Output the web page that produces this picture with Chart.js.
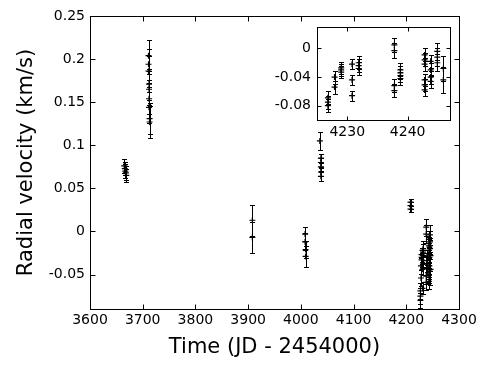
<!DOCTYPE html>
<html>
<head>
<meta charset="utf-8">
<script src="https://cdn.jsdelivr.net/npm/chart.js@4/dist/chart.umd.min.js"></script>
<style>
  body { margin: 0; background: #fff; }
  #wrap { position: relative; width: 499px; height: 366px; }
  #inset { position: absolute; left: 260px; top: 10px; }
</style>
</head>
<body>
<div id="wrap">
  <canvas id="myChart" width="499" height="366"></canvas>
  <canvas id="inset" width="200" height="140"></canvas>
</div>
<script>
// radial velocity measurements, JD - 2454000
var jd = [
  3665, 3666, 3667, 3668, 3669,
  3711, 3711, 3711, 3712, 3712, 3712, 3712, 3713, 3713,
  3908, 3908,
  4008, 4008, 4009, 4009,
  4036, 4038, 4038, 4038, 4038, 4038,
  4208, 4208, 4208,
  4226.8, 4226.8, 4226.8,
  4227.9, 4227.9,
  4229.0, 4229.0, 4229.0,
  4230.8, 4230.8, 4230.8,
  4231.9, 4231.9, 4231.9,
  4237.8, 4237.8, 4237.8, 4237.8,
  4238.8, 4238.8, 4238.8, 4238.8,
  4242.8, 4242.8, 4242.8, 4242.8, 4242.8, 4242.8,
  4243.8, 4243.8, 4243.8, 4243.8,
  4244.9, 4244.9, 4244.9,
  4245.9, 4245.9
];
var rv = [
  0.076, 0.073, 0.070, 0.068, 0.065,
  0.204, 0.194, 0.186, 0.171, 0.165, 0.154, 0.144, 0.131, 0.127,
  0.013, -0.007,
  -0.003, -0.012, -0.021, -0.029,
  0.105, 0.085, 0.080, 0.075, 0.069, 0.064,
  0.034, 0.030, 0.026,
  -0.069, -0.075, -0.080,
  -0.040, -0.054,
  -0.027, -0.030, -0.033,
  -0.022, -0.044, -0.066,
  -0.020, -0.024, -0.028,
  0.005, -0.003, -0.052, -0.059,
  -0.030, -0.034, -0.038, -0.042,
  -0.009, -0.016, -0.022, -0.044, -0.051, -0.058,
  -0.018, -0.030, -0.040, -0.046,
  -0.004, -0.012, -0.020,
  -0.028, -0.044
];
var rvErr = [
  0.008, 0.008, 0.008, 0.008, 0.008,
  0.018, 0.018, 0.018, 0.018, 0.018, 0.018, 0.018, 0.018, 0.018,
  0.018, 0.018,
  0.008, 0.010, 0.010, 0.012,
  0.010, 0.005, 0.005, 0.005, 0.005, 0.005,
  0.004, 0.004, 0.004,
  0.009, 0.009, 0.009,
  0.009, 0.009,
  0.008, 0.008, 0.008,
  0.007, 0.007, 0.007,
  0.009, 0.009, 0.009,
  0.010, 0.010, 0.009, 0.009,
  0.009, 0.009, 0.009, 0.009,
  0.009, 0.009, 0.009, 0.009, 0.009, 0.009,
  0.009, 0.009, 0.009, 0.009,
  0.012, 0.012, 0.012,
  0.018, 0.018
];
var xTicksMain = [3600, 3700, 3800, 3900, 4000, 4100, 4200, 4300];
var yTicksMain = [-0.05, 0, 0.05, 0.1, 0.15, 0.2, 0.25];
var xTicksInset = [4230, 4240];
var yTicksInset = [-0.08, -0.04, 0];

Chart.defaults.font.family = 'DejaVu Sans';
Chart.defaults.color = '#000';

function fmt(v) {
  var s = Number(v.toFixed(2));
  if (s === 0) s = 0;
  return String(s);
}

function pointsFor(lo, hi) {
  var out = [];
  for (var i = 0; i < jd.length; i++) {
    if (jd[i] >= lo && jd[i] <= hi) out.push({x: jd[i], y: rv[i], e: rvErr[i]});
  }
  return out;
}

// error bars + frame with inward ticks (matplotlib look)
function framePlugin(tickLen, capW) {
  return {
    id: 'frame',
    beforeDraw: function(chart) {
      var a = chart.chartArea, ctx = chart.ctx;
      ctx.save();
      ctx.fillStyle = '#fff';
      ctx.fillRect(a.left, a.top, a.right - a.left, a.bottom - a.top);
      ctx.restore();
    },
    afterDatasetsDraw: function(chart) {
      var a = chart.chartArea, ctx = chart.ctx;
      var xs = chart.scales.x, ys = chart.scales.y;
      var pts = chart.data.datasets[0].data;
      ctx.save();
      ctx.beginPath();
      ctx.rect(a.left, a.top, a.right - a.left, a.bottom - a.top);
      ctx.clip();
      ctx.strokeStyle = '#000';
      ctx.lineWidth = 1;
      ctx.beginPath();
      pts.forEach(function(p) {
        var px = Math.round(xs.getPixelForValue(p.x)) + 0.5;
        var y1 = Math.round(ys.getPixelForValue(p.y + p.e)) + 0.5;
        var y2 = Math.round(ys.getPixelForValue(p.y - p.e)) + 0.5;
        ctx.moveTo(px, y1); ctx.lineTo(px, y2);
        ctx.moveTo(px - capW, y1); ctx.lineTo(px + capW, y1);
        ctx.moveTo(px - capW, y2); ctx.lineTo(px + capW, y2);
      });
      ctx.stroke();
      ctx.restore();
    },
    afterDraw: function(chart) {
      var a = chart.chartArea, ctx = chart.ctx;
      var xs = chart.scales.x, ys = chart.scales.y;
      var l = Math.round(a.left) + 0.5, r = Math.round(a.right) + 0.5;
      var t = Math.round(a.top) + 0.5, b = Math.round(a.bottom) + 0.5;
      ctx.save();
      ctx.strokeStyle = '#000';
      ctx.lineWidth = 1;
      ctx.strokeRect(l, t, r - l, b - t);
      ctx.beginPath();
      xs.ticks.forEach(function(tk) {
        var px = Math.round(xs.getPixelForValue(tk.value)) + 0.5;
        ctx.moveTo(px, b); ctx.lineTo(px, b - tickLen);
        ctx.moveTo(px, t); ctx.lineTo(px, t + tickLen);
      });
      ys.ticks.forEach(function(tk) {
        var py = Math.round(ys.getPixelForValue(tk.value)) + 0.5;
        ctx.moveTo(l, py); ctx.lineTo(l + tickLen, py);
        ctx.moveTo(r, py); ctx.lineTo(r - tickLen, py);
      });
      ctx.stroke();
      ctx.restore();
    }
  };
}

var ctx = document.getElementById('myChart');
var mainChart = new Chart(ctx, {
  type: 'scatter',
  data: {
    datasets: [{
      data: pointsFor(3600, 4300),
      pointStyle: 'cross',
      radius: 3,
      borderColor: '#000',
      borderWidth: 1.2
    }]
  },
  options: {
    responsive: false,
    animation: false,
    layout: { padding: { left: 0, right: 40, top: 16, bottom: 0 } },
    plugins: { legend: { display: false }, tooltip: { enabled: false } },
    scales: {
      x: {
        type: 'linear', min: 3600, max: 4300,
        afterBuildTicks: function(s) { s.ticks = xTicksMain.map(function(v) { return {value: v}; }); },
        ticks: { font: { size: 14 }, padding: 3, maxRotation: 0, autoSkip: false,
                 callback: function(v) { return String(v); } },
        grid: { display: false, drawTicks: false },
        border: { display: false },
        title: { display: true, text: 'Time (JD - 2454000)', font: { size: 21 }, padding: { bottom: 6 } },
        afterFit: function(s) { s.height = 57; }
      },
      y: {
        type: 'linear', min: -0.09, max: 0.25,
        afterBuildTicks: function(s) { s.ticks = yTicksMain.map(function(v) { return {value: v}; }); },
        ticks: { font: { size: 14 }, padding: 5, autoSkip: false, callback: fmt },
        grid: { display: false, drawTicks: false },
        border: { display: false },
        title: { display: true, text: 'Radial velocity (km/s)', font: { size: 21 }, padding: { top: 14 } },
        afterFit: function(s) { s.width = 90; }
      }
    }
  },
  plugins: [framePlugin(5, 2.5)]
});

var insetChart = new Chart(document.getElementById('inset'), {
  type: 'scatter',
  data: {
    datasets: [{
      data: pointsFor(4225, 4247),
      pointStyle: 'cross',
      radius: 3,
      borderColor: '#000',
      borderWidth: 1.2
    }]
  },
  options: {
    responsive: false,
    animation: false,
    layout: { padding: { left: 0, right: 10, top: 17, bottom: 0 } },
    plugins: { legend: { display: false }, tooltip: { enabled: false } },
    scales: {
      x: {
        type: 'linear', min: 4225, max: 4247,
        afterBuildTicks: function(s) { s.ticks = xTicksInset.map(function(v) { return {value: v}; }); },
        ticks: { font: { size: 14 }, padding: 4, maxRotation: 0, autoSkip: false,
                 callback: function(v) { return String(v); } },
        grid: { display: false, drawTicks: false },
        border: { display: false },
        afterFit: function(s) { s.height = 30; }
      },
      y: {
        type: 'linear', min: -0.1, max: 0.03,
        afterBuildTicks: function(s) { s.ticks = yTicksInset.map(function(v) { return {value: v}; }); },
        ticks: { font: { size: 14 }, padding: 6, autoSkip: false, callback: fmt },
        grid: { display: false, drawTicks: false },
        border: { display: false },
        afterFit: function(s) { s.width = 57; }
      }
    }
  },
  plugins: [framePlugin(4, 2.5)]
});
</script>
</body>
</html>
